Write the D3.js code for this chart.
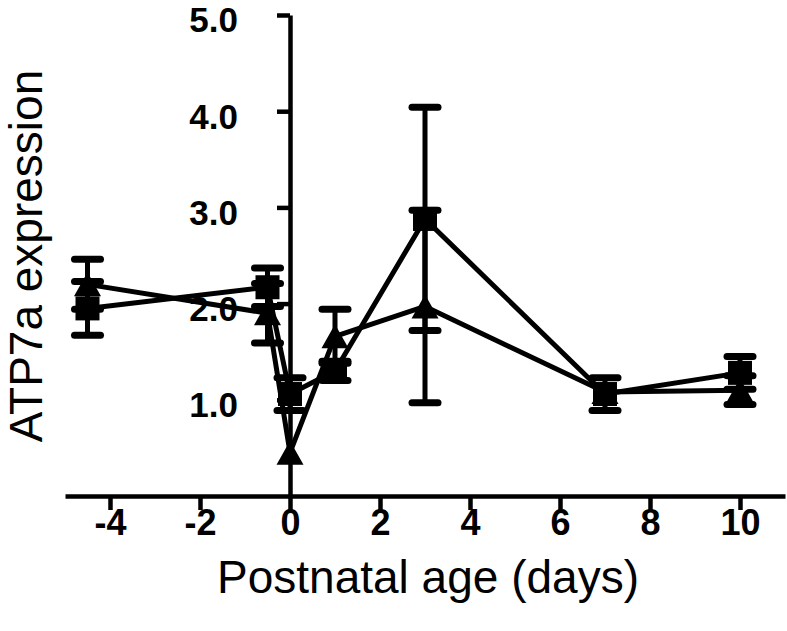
<!DOCTYPE html>
<html><head><meta charset="utf-8">
<script src="https://cdn.jsdelivr.net/npm/d3@7"></script>
<style>body{margin:0;background:#fff}svg{display:block}</style>
</head><body>
<script>
const days = [-4.5, -0.5, 0, 1, 3, 7, 10];
const squareMean = [1.95, 2.17, 1.06, 1.30, 2.88, 1.06, 1.28];
const squareErr  = [0.28, 0.20, 0.17, 0.10, 1.16, 0.17, 0.17];
const triMean = [2.20, 1.90, 0.45, 1.66, 1.97, 1.08, 1.10];
const triErr  = [0.26, 0.31, 0, 0.28, 1.00, 0, 0.15];
const xTicks = [-4, -2, 0, 2, 4, 6, 8, 10];
const yTicks = [1, 2, 3, 4, 5];

const W = 787, H = 631;
const svg = d3.select("body").append("svg").attr("width", W).attr("height", H);
const x = d3.scaleLinear().domain([-5, 11]).range([65, 785]);
const y = d3.scaleLinear().domain([0, 5]).range([496, 15]);

const series = [
  {name: "triangle", mean: triMean, err: triErr},
  {name: "square", mean: squareMean, err: squareErr}
];

const font = "Liberation Sans, Arial, sans-serif";
// axes
const xAxis = svg.append("g").attr("transform", `translate(0,${y(0)})`)
  .call(d3.axisBottom(x).tickValues(xTicks).tickFormat(d => String(d)).tickSize(14).tickSizeOuter(0).tickPadding(-1));
xAxis.selectAll("text").attr("font-family", font)
  .attr("font-weight", "bold").attr("font-size", 36).attr("fill", "#000");
const yAxis = svg.append("g").attr("transform", `translate(${x(0)},0)`)
  .call(d3.axisLeft(y).tickValues(yTicks).tickFormat(d3.format(".1f")).tickSize(13).tickSizeOuter(0).tickPadding(39));
yAxis.selectAll("text").attr("font-family", font)
  .attr("font-weight", "bold").attr("font-size", 35).attr("fill", "#000").attr("dy", "0.48em");
[xAxis, yAxis].forEach(g => {
  g.select(".domain").attr("stroke", "#000").attr("stroke-width", 4.5);
  g.selectAll(".tick line").attr("stroke", "#000").attr("stroke-width", 4.5);
});

// lines
const line = d3.line().x((d, i) => x(days[i])).y(d => y(d));
series.forEach(s => {
  svg.append("path").attr("d", line(s.mean)).attr("fill", "none")
    .attr("stroke", "#000").attr("stroke-width", 5).attr("stroke-linejoin", "round");
});

// error bars
series.forEach(s => {
  const g = svg.append("g").attr("stroke", "#000").attr("stroke-linecap", "round");
  s.mean.forEach((m, i) => {
    if (!s.err[i]) return;
    const cx = x(days[i]);
    g.append("line").attr("x1", cx).attr("x2", cx).attr("y1", y(m + s.err[i])).attr("y2", y(m - s.err[i])).attr("stroke-width", 5);
    [m + s.err[i], m - s.err[i]].forEach(v => {
      g.append("line").attr("x1", cx - 13).attr("x2", cx + 13).attr("y1", y(v)).attr("y2", y(v)).attr("stroke-width", 7);
    });
  });
});

// markers
series.forEach(s => {
  s.mean.forEach((m, i) => {
    const cx = x(days[i]), cy = y(m);
    if (s.name === "square") {
      svg.append("rect").attr("x", cx - 12).attr("y", cy - 12).attr("width", 24).attr("height", 24).attr("fill", "#000");
    } else {
      const h = 24, w = 27;
      svg.append("path").attr("d", `M${cx},${cy - h/2}L${cx + w/2},${cy + h/2}L${cx - w/2},${cy + h/2}Z`).attr("fill", "#000");
    }
  });
});

// titles
svg.append("text").attr("x", 428).attr("y", 593).attr("text-anchor", "middle")
  .attr("font-family", font).attr("font-size", 46).attr("fill", "#000")
  .text("Postnatal age (days)");
svg.append("text").attr("transform", "translate(42,256) rotate(-90)").attr("text-anchor", "middle")
  .attr("font-family", font).attr("font-size", 46).attr("fill", "#000")
  .text("ATP7a expression");
</script>
</body></html>
